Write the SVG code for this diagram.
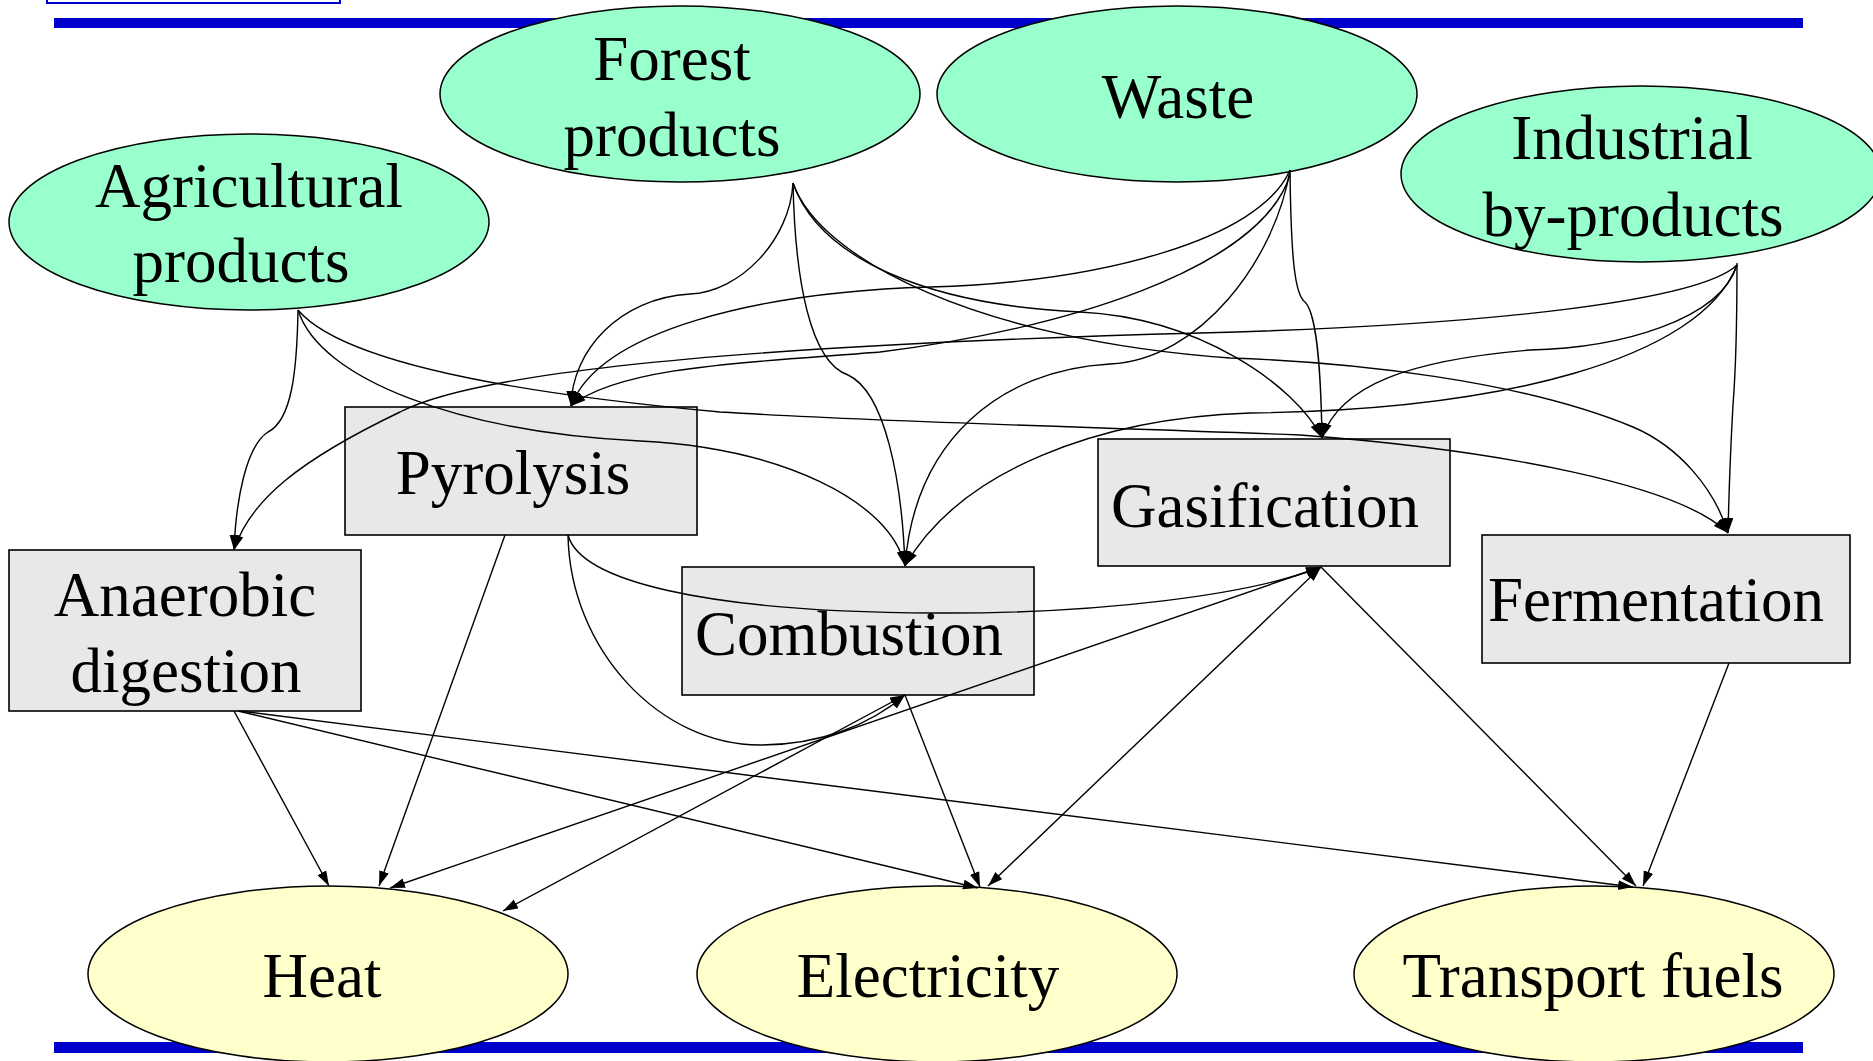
<svg xmlns="http://www.w3.org/2000/svg" width="1873" height="1061" viewBox="0 0 1873 1061">
<defs>
<style>
.src{fill:#99FFCC;stroke:#000;stroke-width:1.5}
.out{fill:#FFFFCC;stroke:#000;stroke-width:1.5}
.box{fill:#E8E8E8;stroke:#000;stroke-width:1.6}
.bar{fill:#0000CC}
text{font-family:"Liberation Serif","Times New Roman",serif;font-size:63px;fill:#000;text-anchor:middle}
.e{fill:none;stroke:#000;stroke-width:1.4;marker-end:url(#arr)}
.b{marker-start:url(#arr)}
</style>
<marker id="arr" markerUnits="userSpaceOnUse" markerWidth="16" markerHeight="11" refX="15" refY="5" orient="auto-start-reverse">
<path d="M0,0 L15,5 L0,10 z" fill="#000"/>
</marker>
</defs>
<rect x="0" y="0" width="1873" height="1061" fill="#fff"/>
<rect x="47" y="-10" width="293" height="13" fill="#fff" stroke="#0000CC" stroke-width="2"/>
<rect class="bar" x="54" y="18" width="1749" height="10"/>
<rect class="bar" x="54" y="1042" width="1749" height="11"/>

<g id="agricultural">
<ellipse class="src" cx="249" cy="222" rx="240" ry="88"/>
<text x="249" y="207">Agricultural</text>
<text x="241" y="282">products</text>
</g>
<g id="forest">
<ellipse class="src" cx="680" cy="94" rx="240" ry="88"/>
<text x="672" y="80">Forest</text>
<text x="672" y="156">products</text>
</g>
<g id="waste">
<ellipse class="src" cx="1177" cy="94" rx="240" ry="88"/>
<text x="1178" y="118">Waste</text>
</g>
<g id="industrial">
<ellipse class="src" cx="1641" cy="174" rx="240" ry="88"/>
<text x="1632" y="159">Industrial</text>
<text x="1633" y="236">by-products</text>
</g>
<g id="pyrolysis">
<rect class="box" x="345" y="407" width="352" height="128"/>
<text x="513" y="494">Pyrolysis</text>
</g>
<g id="anaerobic">
<rect class="box" x="9" y="550" width="352" height="161"/>
<text x="185" y="616">Anaerobic</text>
<text x="186" y="692">digestion</text>
</g>
<g id="combustion">
<rect class="box" x="682" y="567" width="352" height="128"/>
<text x="849" y="655">Combustion</text>
</g>
<g id="gasification">
<rect class="box" x="1098" y="439" width="352" height="127"/>
<text x="1265" y="527">Gasification</text>
</g>
<g id="fermentation">
<rect class="box" x="1482" y="535" width="368" height="128"/>
<text x="1656" y="621">Fermentation</text>
</g>
<g id="heat">
<ellipse class="out" cx="328" cy="974" rx="240" ry="88"/>
<text x="322" y="997">Heat</text>
</g>
<g id="electricity">
<ellipse class="out" cx="937" cy="974" rx="240" ry="88"/>
<text x="928" y="997">Electricity</text>
</g>
<g id="transport">
<ellipse class="out" cx="1594" cy="974" rx="240" ry="88"/>
<text x="1593" y="997">Transport fuels</text>
</g>

<g id="connectors">
<path class="e" d="M298,310 C297,370 292,420 268,432 C246,446 236,500 234,550"/>
<path class="e" d="M298,310 C320,380 460,432 640,441 C780,448 890,500 905,566"/>
<path class="e" d="M298,310 C340,360 500,392 720,412 C900,423 1100,427 1300,435 C1500,450 1680,485 1728,533"/>
<path class="e" d="M793,183 C790,240 740,292 690,294 C620,298 572,350 571,406"/>
<path class="e" d="M793,183 C795,280 810,362 848,375 C885,392 902,480 905,566"/>
<path class="e" d="M793,183 C820,260 930,305 1080,312 C1200,318 1295,385 1322,438"/>
<path class="e" d="M793,183 C820,260 980,340 1230,358 C1350,362 1520,380 1633,427 C1680,447 1715,490 1728,533"/>
<path class="e" d="M1290,170 C1260,240 1100,282 930,287 C760,292 600,330 571,406"/>
<path class="e" d="M1290,175 C1260,270 1060,330 880,352 C760,362 620,365 571,406"/>
<path class="e" d="M1737,265 C1700,300 1500,325 1200,333 C900,341 500,360 400,412 C300,460 250,500 234,550"/>
<path class="e" d="M1290,170 C1275,260 1200,360 1110,364 C1000,370 915,440 905,566"/>
<path class="e" d="M1290,170 C1291,260 1295,295 1305,302 C1318,315 1321,380 1322,438"/>
<path class="e" d="M1737,265 C1720,320 1620,348 1530,350 C1410,360 1340,385 1322,438"/>
<path class="e" d="M1737,265 C1700,360 1500,410 1250,413 C1100,418 960,470 905,566"/>
<path class="e" d="M1737,263 C1737,330 1735,380 1733,405 C1731,440 1729,490 1728,533"/>
<path class="e" d="M505,535 L379,886"/>
<path class="e" d="M568,535 C580,580 700,612 935,613 C1100,614 1250,595 1321,567"/>
<path class="e" d="M568,535 C570,650 660,745 760,745 C820,745 870,725 905,695"/>
<path class="e b" d="M503,911 L905,695"/>
<path class="e b" d="M390,888 L1321,567"/>
<path class="e b" d="M988,886 L1321,567"/>
<path class="e" d="M905,695 L980,887"/>
<path class="e" d="M234,711 L329,886"/>
<path class="e" d="M238,711 L978,888"/>
<path class="e" d="M240,711 L1633,887"/>
<path class="e" d="M1321,567 L1636,886"/>
<path class="e" d="M1729,663 L1643,886"/>
</g>
</svg>
